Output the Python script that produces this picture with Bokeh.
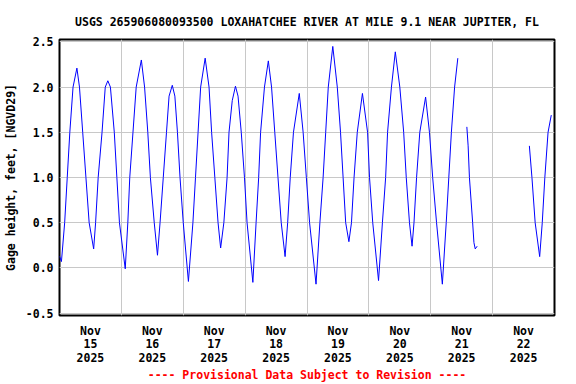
import pandas as pd
from bokeh.plotting import figure
from bokeh.models import Range1d, FixedTicker
from bokeh.embed import file_html
from bokeh.resources import INLINE

# ---------------- data ----------------
title_text = "USGS 265906080093500 LOXAHATCHEE RIVER AT MILE 9.1 NEAR JUPITER, FL"
y_label_text = "Gage height, feet, [NGVD29]"
footer_text = "---- Provisional Data Subject to Revision ----"

start_time = "2025-11-15 00:00"          # hours below are counted from this time

# main record (hours since start, gage height in feet)
hours_a = [0, 0.75, 2, 3, 4, 5.25, 6.75, 7.75, 9, 10.25, 11.5, 13.25, 14, 15, 16.5,
           17.75, 18.75, 19.75, 21.25, 22.25, 23.25, 25.5, 26.5, 27.25, 28.5, 29.75,
           31.75, 33, 34.25, 35.25, 36.75, 38, 39, 40.25, 41.5, 42.5, 43.75, 44.75,
           45.75, 46.75, 48, 50, 51.75, 52.75, 53.75, 54.75, 56.5, 58, 59, 60.25,
           61.5, 62.5, 63.75, 65, 65.75, 67, 68.25, 69.25, 70.5, 71.75, 72.75, 75,
           76.25, 77.25, 78, 79.5, 81, 82.25, 83.5, 84.75, 86, 87.5, 88.5, 89.5,
           90.75, 93, 94.5, 95.75, 97, 99.5, 101, 102.25, 103.25, 104.25, 106,
           107.75, 109, 110, 111, 112.25, 113.25, 114.25, 115.5, 117.5, 119.5,
           120.25, 121.5, 123.75, 125.25, 126.5, 127.25, 128.75, 130.25, 132, 133.5,
           134.5, 135.75, 136.75, 137.5, 138.5, 139.75, 142, 143.5, 144.75, 146.25,
           148.5, 150, 151, 152, 153.25, 154.5]
stage_a = [0.13, 0.07, 0.5, 1.0, 1.5, 2.0, 2.21, 2.0, 1.5, 1.0, 0.5, 0.21, 0.5, 1.0, 1.5,
           2.0, 2.07, 2.0, 1.5, 1.0, 0.5, -0.01, 0.5, 1.0, 1.5, 2.0,
           2.30, 2.0, 1.5, 1.0, 0.5, 0.14, 0.5, 1.0, 1.5, 1.9, 2.02, 1.9,
           1.5, 1.0, 0.5, -0.15, 0.5, 1.0, 1.5, 2.0, 2.32, 2.0, 1.5, 1.0,
           0.5, 0.22, 0.5, 1.0, 1.5, 1.85, 2.01, 1.9, 1.5, 1.0, 0.5, -0.16,
           0.5, 1.0, 1.5, 2.0, 2.29, 2.0, 1.5, 1.0, 0.5, 0.125, 0.5, 1.0,
           1.5, 1.93, 1.5, 1.0, 0.5, -0.18, 0.5, 1.0, 1.5, 2.0, 2.45,
           2.0, 1.5, 1.0, 0.5, 0.29, 0.5, 1.0, 1.5, 1.93, 1.5,
           1.0, 0.5, -0.14, 0.5, 1.0, 1.5, 2.0, 2.39, 2.0, 1.5,
           1.0, 0.5, 0.24, 0.5, 1.0, 1.5, 1.89, 1.5, 1.0, 0.5,
           -0.18, 0.5, 1.0, 1.5, 2.0, 2.32]

# short piece after the first gap
hours_b = [158, 158.5, 159, 160.25, 160.75, 161.25, 162]
stage_b = [1.56, 1.35, 1.0, 0.5, 0.28, 0.21, 0.24]

# last piece after the second gap
hours_c = [182.25, 183.25, 184.5, 186.25, 187.25, 188.25, 189.5, 190.75]
stage_c = [1.35, 1.0, 0.5, 0.125, 0.5, 1.0, 1.5, 1.69]

day_dates = ["2025-11-15", "2025-11-16", "2025-11-17", "2025-11-18",
             "2025-11-19", "2025-11-20", "2025-11-21", "2025-11-22"]
day_labels = ["Nov\n15\n2025", "Nov\n16\n2025", "Nov\n17\n2025", "Nov\n18\n2025",
              "Nov\n19\n2025", "Nov\n20\n2025", "Nov\n21\n2025", "Nov\n22\n2025"]
x_end_date = "2025-11-23"

y_ticks = [-0.5, 0.0, 0.5, 1.0, 1.5, 2.0, 2.5]
y_tick_labels = ["-0.5", "0.0", "0.5", "1.0", "1.5", "2.0", "2.5"]
y_min, y_max = -0.5265, 2.5265

# ---------------- helpers ----------------
t0 = pd.Timestamp(start_time)

def to_ms(ts):
    return float(pd.Timestamp(ts).value // 10**6)

def times(hours):
    return [t0 + pd.Timedelta(hours=h) for h in hours]

midnights = [to_ms(d) for d in day_dates] + [to_ms(x_end_date)]
noons = [to_ms(pd.Timestamp(d) + pd.Timedelta(hours=12)) for d in day_dates]

FONT = "DejaVu Sans Mono"
FS = "11.5px"

p = figure(width=576, height=384, x_axis_type="datetime",
           output_backend="svg", toolbar_location=None, title=title_text,
           min_border_left=58, min_border_right=22,
           min_border_top=39, min_border_bottom=68)
p.x_range = Range1d(to_ms(start_time), to_ms(x_end_date))
p.y_range = Range1d(y_min, y_max)

p.background_fill_color = "white"
p.border_fill_color = "white"
p.outline_line_color = "black"
p.outline_line_width = 2

# title
p.title.align = "center"
p.title.text_font = FONT
p.title.text_font_style = "bold"
p.title.text_font_size = FS
p.title.text_color = "black"
p.title.standoff = 22

# grids
p.xgrid.ticker = FixedTicker(ticks=midnights)
p.ygrid.ticker = FixedTicker(ticks=y_ticks)
for g in (p.xgrid, p.ygrid):
    g.grid_line_color = "#c8c8c8"
    g.grid_line_width = 1

# axes
for ax in (p.xaxis, p.yaxis):
    ax.axis_line_color = None
    ax.major_tick_in = 0
    ax.major_tick_out = 0
    ax.minor_tick_in = 0
    ax.minor_tick_out = 0
    ax.major_label_text_font = FONT
    ax.major_label_text_font_style = "bold"
    ax.major_label_text_font_size = FS
    ax.major_label_text_color = "black"
    ax.axis_label_text_font = FONT
    ax.axis_label_text_font_style = "bold"
    ax.axis_label_text_font_size = FS

p.xaxis.ticker = FixedTicker(ticks=noons)
p.xaxis.major_label_overrides = {n: lab for n, lab in zip(noons, day_labels)}
p.xaxis.major_label_standoff = 8
p.xaxis.major_label_text_line_height = 0.97
p.xaxis.axis_label = footer_text
p.xaxis.axis_label_text_color = "#ff0000"
p.xaxis.axis_label_standoff = 0

p.yaxis.ticker = FixedTicker(ticks=y_ticks)
p.yaxis.major_label_overrides = {t: lab for t, lab in zip(y_ticks, y_tick_labels)}
p.yaxis.major_label_standoff = 6
p.yaxis.axis_label = y_label_text
p.yaxis.axis_label_text_color = "black"
p.yaxis.axis_label_standoff = 5

# data
for hrs, stg in ((hours_a, stage_a), (hours_b, stage_b), (hours_c, stage_c)):
    p.line(times(hrs), stg, line_color="#0000ff", line_width=1)

open("out.html", "w").write(file_html(p, INLINE))
